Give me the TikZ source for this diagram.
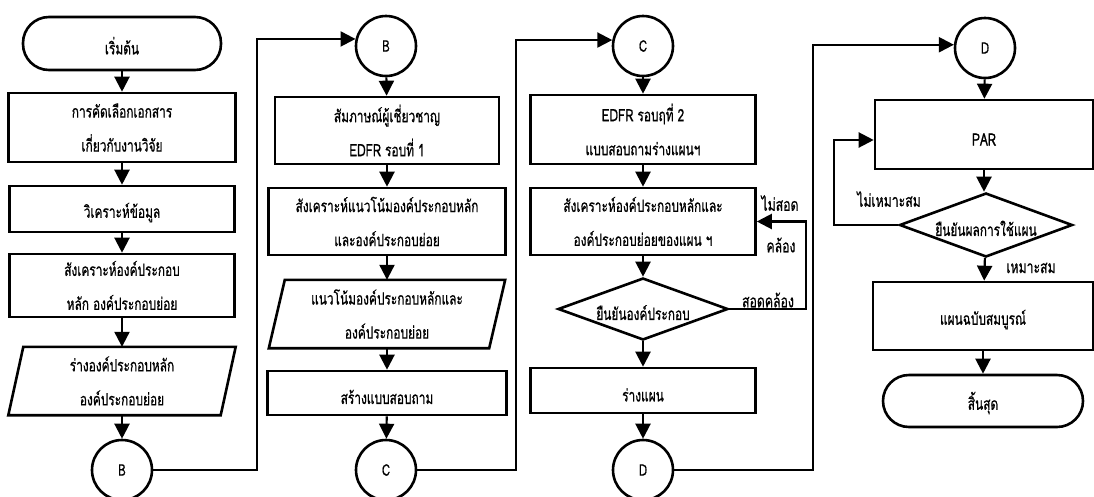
\documentclass[tikz,border=0pt]{standalone}
\usepackage{fontspec}
\setmainfont{Loma}[Script=Thai, FakeStretch=0.7, FakeBold=0.7]
\usetikzlibrary{arrows.meta,shapes.geometric}

\newcommand{\flowfont}{\fontsize{17}{34}\selectfont}

\tikzset{
  base/.style={draw, line width=2.6pt, inner sep=0pt, align=center, font=\flowfont},
  stepbox/.style={base, rectangle},
  term/.style={base, rectangle, rounded corners=26pt},
  conn/.style={base, circle, minimum size=60pt, font=\fontsize{16}{18}\selectfont},
  decide/.style={base, diamond, aspect=2.75},
  iobox/.style={rectangle, inner sep=0pt, align=center, font=\flowfont},
  iodraw/.style={draw, line width=2.6pt, line join=miter},
  flow/.style={line width=2.2pt, -{Triangle[length=15pt,width=15pt]}},
  lbl/.style={font=\fontsize{17.5}{20}\selectfont, inner sep=0pt},
  % push the text block a little below the shape centre
  lowtwo/.style={execute at begin node={\rule{0pt}{29pt}}},
  lowone/.style={execute at begin node={\rule{0pt}{22pt}}},
}

\begin{document}
\begin{tikzpicture}[x=1pt,y=-1pt]
\useasboundingbox (0,0) rectangle (1094,496);

% ---------- column 1 ----------
\node[term, lowone, minimum width=198pt, minimum height=53pt] (start) at (122,43.5) {เริ่มต้น};
\node[stepbox, lowtwo, minimum width=227pt, minimum height=69pt] (a1) at (122,127.5) {การคัดเลือกเอกสาร\\เกี่ยวกับงานวิจัย};
\node[stepbox, lowone, minimum width=225pt, minimum height=46pt] (a2) at (122,209) {วิเคราะห์ข้อมูล};
\node[stepbox, lowtwo, minimum width=225pt, minimum height=63pt] (a3) at (122,285.5) {สังเคราะห์องค์ประกอบ\\หลัก องค์ประกอบย่อย};
\node[iobox, lowtwo, minimum width=227pt, minimum height=68pt] (a4) at (122,381) {ร่างองค์ประกอบหลัก\\องค์ประกอบย่อย};
\draw[iodraw] ([xshift=15pt]a4.north west) -- (a4.north east) -- ([xshift=-15pt]a4.south east) -- (a4.south west) -- cycle;
\node[conn] (B1) at (122,470) {B};

\draw[flow] (start) -- (a1);
\draw[flow] (a1) -- (a2);
\draw[flow] (a2) -- (a3);
\draw[flow] (a3) -- (a4);
\draw[flow] (a4) -- (B1);

% ---------- column 2 ----------
\node[conn] (B2) at (386,46) {B};
\node[stepbox, lowtwo, minimum width=224pt, minimum height=67pt] (b1) at (387,130.5) {สัมภาษณ์ผู้เชี่ยวชาญ\\EDFR รอบที่ 1};
\node[stepbox, lowtwo, minimum width=237pt, minimum height=67pt] (b2) at (387,221.5) {สังเคราะห์แนวโน้มองค์ประกอบหลัก\\และองค์ประกอบย่อย};
\node[iobox, lowtwo, minimum width=236pt, minimum height=68pt] (b3) at (387,314) {แนวโน้มองค์ประกอบหลักและ\\องค์ประกอบย่อย};
\draw[iodraw] ([xshift=16pt]b3.north west) -- (b3.north east) -- ([xshift=-16pt]b3.south east) -- (b3.south west) -- cycle;
\node[stepbox, lowone, minimum width=239pt, minimum height=44pt] (b4) at (387,393) {สร้างแบบสอบถาม};
\node[conn] (C1) at (386,470) {C};

\draw[flow] (B2) -- (b1);
\draw[flow] (b1) -- (b2);
\draw[flow] (b2) -- (b3);
\draw[flow] (b3) -- (b4);
\draw[flow] (b4) -- (C1);

% ---------- column 3 ----------
\node[conn] (C2) at (643,46) {C};
\node[stepbox, lowtwo, minimum width=225pt, minimum height=69pt] (c1) at (643,129.5) {EDFR รอบฤที่ 2\\แบบสอบถามร่างแผนฯ};
\node[stepbox, lowtwo, minimum width=225pt, minimum height=67pt] (c2) at (643,221.5) {สังเคราะห์องค์ประกอบหลักและ\\องค์ประกอบย่อยของแผน ฯ};
\node[decide, lowone, minimum width=170pt, minimum height=62pt] (c3) at (643,309) {ยืนยันองค์ประกอบ};
\node[stepbox, lowone, minimum width=225pt, minimum height=45pt] (c4) at (643,390.5) {ร่างแผน};
\node[conn] (D1) at (643,470) {D};

\draw[flow] (C2) -- (c1);
\draw[flow] (c1) -- (c2);
\draw[flow] (c2) -- (c3);
\draw[flow] (c3) -- (c4);
\draw[flow] (c4) -- (D1);

\coordinate (fb3) at (806,221.5);
\draw[flow] (c3.east) -| (fb3) -- (c2.east);
\node[lbl] (l1) at (780,203) {ไม่สอด};
\node[lbl] (l2) at (781,245) {คล้อง};
\node[lbl] (l3) at (768,300) {สอดคล้อง};

% ---------- column 4 ----------
\node[conn] (D2) at (985,48) {D};
\node[stepbox, lowone, minimum width=218pt, minimum height=69pt] (d1) at (984,134.5) {PAR};
\node[decide, lowone, minimum width=173pt, minimum height=64pt] (d2) at (986,225) {ยืนยันผลการใช้แผน};
\node[stepbox, lowone, minimum width=220pt, minimum height=68pt] (d3) at (983,316) {แผนฉบับสมบูรณ์};
\node[term, lowone, minimum width=200pt, minimum height=52pt] (stop) at (983,401) {สิ้นสุด};

\draw[flow] (D2) -- (d1);
\draw[flow] (d1) -- (d1 |- d2.north);
\draw[flow] (d2) -- (d3);
\draw[flow] (d3) -- (stop);

\coordinate (fb4) at (834,140);
\draw[flow] (d2.west) -| (fb4) -- (fb4 -| d1.west);
\node[lbl] (l4) at (889,199) {ไม่เหมาะสม};
\node[lbl] (l5) at (1031,268) {เหมาะสม};

% ---------- links between columns ----------
\coordinate (j1) at (257,470);
\coordinate (j2) at (516,470);
\coordinate (j3) at (813,470);
\draw[flow] (B1.east) -- (j1) |- (B2.167);
\draw[flow] (C1.east) -- (j2) |- (C2.169);
\draw[flow] (D1.east) -- (j3) |- (D2.174);
\end{tikzpicture}
\end{document}
